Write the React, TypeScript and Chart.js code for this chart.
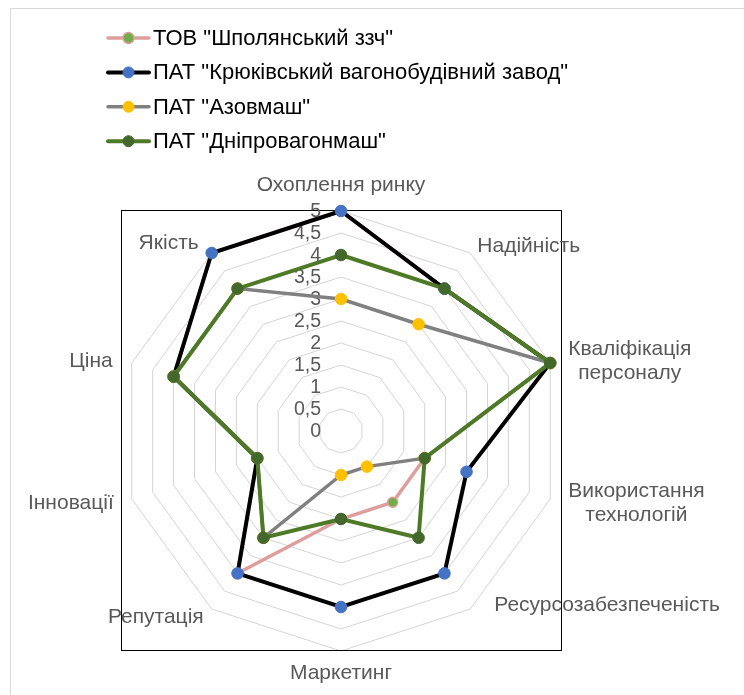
import React, { useEffect, useRef } from "react";
import { Chart, registerables } from "chart.js";

Chart.register(...registerables);

const CATEGORIES: string[][] = [
  ["Охоплення ринку"],
  ["Надійність"],
  ["Кваліфікація", "персоналу"],
  ["Використання", "технологій"],
  ["Ресурсозабезпеченість"],
  ["Маркетинг"],
  ["Репутація"],
  ["Інновації"],
  ["Ціна"],
  ["Якість"],
];

const SERIES_NAMES = [
  'ТОВ "Шполянський ззч"',
  'ПАТ "Крюківський вагонобудівний завод"',
  'ПАТ "Азовмаш"',
  'ПАТ "Дніпровагонмаш"',
];

const SHPOLA = [5, 4, 5, 2, 2, 2, 4, 2, 4, 5];
const KRYUKIV = [5, 4, 5, 3, 4, 4, 4, 2, 4, 5];
const AZOV = [3, 3, 5, 2, 1, 1, 3, 2, 4, 4];
const DNIPRO = [4, 4, 5, 2, 3, 2, 3, 2, 4, 4];

const TICK_VALUES = [0, 0.5, 1, 1.5, 2, 2.5, 3, 3.5, 4, 4.5, 5];
const TICK_LABELS = ["0", "0,5", "1", "1,5", "2", "2,5", "3", "3,5", "4", "4,5", "5"];

// label placement relative to the outer-ring vertex: [dx, dy, align]
const LABEL_NUDGE: [number, number, CanvasTextAlign][] = [
  [0, -26, "center"],
  [7, -7, "left"],
  [18, -2, "left"],
  [18, 4, "left"],
  [24, -4, "left"],
  [0, 22, "center"],
  [-8, 8, "right"],
  [-18, 4, "right"],
  [-19, -2, "right"],
  [-13, -10, "right"],
];

const FONT = '"Liberation Sans", Arial, sans-serif';

const overlayPlugin = {
  id: "overlay",
  beforeDatasetsDraw(chart: any) {
    const ctx = chart.ctx;
    const ca = chart.chartArea;
    const scale = chart.scales.r;
    ctx.save();
    ctx.strokeStyle = "#D9D9D9";
    ctx.lineWidth = 1;
    ctx.strokeRect(10.5, 8.5, 800, 800);
    ctx.strokeStyle = "#000000";
    ctx.lineWidth = 1;
    ctx.strokeRect(ca.left + 0.5, ca.top - 0.5, ca.right - ca.left, ca.bottom - ca.top);
    ctx.fillStyle = "#595959";
    ctx.font = `19.5px ${FONT}`;
    ctx.textAlign = "right";
    ctx.textBaseline = "middle";
    TICK_VALUES.forEach((v, i) => {
      const d = scale.getDistanceFromCenterForValue(v);
      ctx.fillText(TICK_LABELS[i], scale.xCenter - 20, scale.yCenter - d + 1);
    });
    ctx.restore();
  },
  afterDraw(chart: any) {
    const ctx = chart.ctx;
    const scale = chart.scales.r;
    ctx.save();
    ctx.fillStyle = "#595959";
    ctx.font = `21px ${FONT}`;
    ctx.textBaseline = "middle";
    const lh = 24;
    CATEGORIES.forEach((lines, i) => {
      const p = scale.getPointPosition(i, scale.drawingArea);
      const [dx, dy, align] = LABEL_NUDGE[i];
      const widths = lines.map((l) => ctx.measureText(l).width);
      const maxW = Math.max(...widths);
      let cx: number;
      if (align === "left") cx = p.x + dx + maxW / 2;
      else if (align === "right") cx = p.x + dx - maxW / 2;
      else cx = p.x + dx;
      const y0 = p.y + dy - ((lines.length - 1) * lh) / 2;
      ctx.textAlign = "center";
      lines.forEach((l, k) => ctx.fillText(l, cx, y0 + k * lh));
    });
    const ds = chart.data.datasets;
    ctx.font = `22px ${FONT}`;
    ctx.textAlign = "left";
    ds.forEach((d: any, i: number) => {
      const y = 38 + i * 34.4;
      ctx.strokeStyle = d.borderColor;
      ctx.lineWidth = d.borderWidth;
      ctx.lineCap = "round";
      ctx.beginPath();
      ctx.moveTo(108, y);
      ctx.lineTo(149, y);
      ctx.stroke();
      ctx.beginPath();
      ctx.arc(128.5, y, 5.5, 0, Math.PI * 2);
      ctx.fillStyle = d.pointBackgroundColor;
      ctx.fill();
      ctx.lineWidth = d.pointBorderWidth;
      ctx.strokeStyle = d.pointBorderColor;
      ctx.stroke();
      ctx.fillStyle = "#000000";
      ctx.fillText(d.label, 153, y + 1);
    });
    ctx.restore();
  },
};

export default function App() {
  const ref = useRef<HTMLCanvasElement | null>(null);
  useEffect(() => {
    if (!ref.current) return;
    const mk = (i: number, data: number[], line: string, fillC: string, borderC: string, w: number, r: number, bw: number, order: number) => ({
      label: SERIES_NAMES[i],
      data,
      borderColor: line,
      backgroundColor: "transparent",
      fill: false,
      borderWidth: w,
      pointRadius: r,
      pointHoverRadius: r,
      pointBackgroundColor: fillC,
      pointBorderColor: borderC,
      pointBorderWidth: bw,
      order,
    });
    const chart = new Chart(ref.current, {
      type: "radar",
      data: {
        labels: CATEGORIES.map((c) => c.join(" ")),
        datasets: [
          mk(0, SHPOLA, "#DE9E9C", "#70AD47", "#DE9E9C", 3.5, 5, 1.5, 4),
          mk(1, KRYUKIV, "#000000", "#4472C4", "#4472C4", 4, 5.8, 1, 3),
          mk(2, AZOV, "#808080", "#FFC000", "#FFC000", 3.5, 5.8, 1, 2),
          mk(3, DNIPRO, "#4E7A27", "#43682B", "#43682B", 4, 5.8, 1, 1),
        ] as any,
      },
      options: {
        responsive: false,
        animation: false,
        devicePixelRatio: 1,
        layout: { padding: { left: 121, top: 211, right: 183, bottom: 44 } },
        plugins: { legend: { display: false }, tooltip: { enabled: false }, title: { display: false } },
        elements: { line: { tension: 0 } },
        scales: {
          r: {
            min: 0,
            max: 5,
            ticks: { display: false, stepSize: 0.5 },
            grid: { color: "#D4D4D4", lineWidth: 1 },
            angleLines: { display: false },
            pointLabels: { display: false },
          },
        },
      } as any,
      plugins: [overlayPlugin],
    });
    return () => chart.destroy();
  }, []);
  return (
    <div style={{ position: "fixed", left: 0, top: 0, width: 744, height: 695, background: "#ffffff" }}>
      <canvas ref={ref} width={744} height={695} style={{ width: 744, height: 695, display: "block" }} />
    </div>
  );
}
